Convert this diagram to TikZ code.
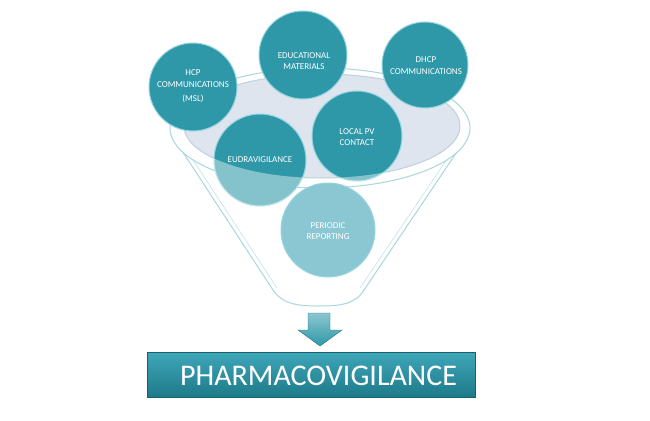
\documentclass[tikz,border=0pt]{standalone}
\usepackage{fontspec}
\setmainfont{Carlito}
\definecolor{tealc}{RGB}{46,152,168}
\definecolor{rimc}{RGB}{150,212,222}
\definecolor{funl}{RGB}{170,214,222}
\definecolor{innerc}{RGB}{222,229,238}
\definecolor{innerl}{RGB}{188,210,220}
\definecolor{lightteal}{RGB}{138,199,210}
\definecolor{bantop}{RGB}{62,167,184}
\definecolor{banbot}{RGB}{30,122,138}
\tikzset{
  bub/.style={circle, fill=tealc, draw=rimc, line width=1pt, inner sep=0pt},
  bubtext/.style={text=white, font=\fontsize{9}{11.5}\selectfont, align=center, inner sep=0pt},
  glass/.style={white, opacity=.42, even odd rule},
}
\begin{document}
\begin{tikzpicture}[x=1pt,y=-1pt]
\useasboundingbox[fill=white] (0,0) rectangle (650,420);
% funnel body
\coordinate (fl) at (171,134);
\coordinate (fr) at (469,134);
\coordinate (fbl) at (273,290);
\coordinate (fbr) at (364,290);
\coordinate (fb) at (319,306);
\draw[funl, line width=1pt, fill=white] (fl) -- (fbl)
  .. controls (283,305) and (300,306) .. (fb)
  .. controls (338,306) and (355,305) .. (fbr) -- (fr);
\draw[funl!70, line width=0.6pt] (176,134) -- (277,288);
\draw[funl!70, line width=0.6pt] (464,134) -- (360,288);
% rims
\draw[funl, line width=1pt, fill=white!96!innerc] (320,128) ellipse[x radius=150pt, y radius=60pt];
\draw[innerl, line width=1pt, fill=innerc] (322,126) ellipse[x radius=138pt, y radius=52pt];
% circles
\node[bub, minimum size=88pt] (hcp) at (193,87) {};
\node[bub, minimum size=88pt] (edu) at (303,55) {};
\node[bub, minimum size=86pt] (dhcp) at (425,65) {};
\node[bub, minimum size=92pt] (eudra) at (260,160) {};
\node[bub, minimum size=90pt] (local) at (357,136) {};
\node[bub, fill=lightteal, minimum size=94pt] (peri) at (328,230) {};
% glass overlay on the parts below the rim
\begin{scope}
  \clip (260,160) circle[radius=46.5pt];
  \fill[glass] (0,0) rectangle (650,420) (322,126) ellipse[x radius=138pt, y radius=52pt];
\end{scope}
\begin{scope}
  \clip (357,136) circle[radius=45.5pt];
  \fill[glass] (0,0) rectangle (650,420) (322,126) ellipse[x radius=138pt, y radius=52pt];
\end{scope}
% texts
\node[bubtext] (hcpt) at (193,86.5) {HCP\\COMMUNICATIONS\\[3pt](MSL)};
\node[bubtext] (edut) at (304,61) {EDUCATIONAL\\MATERIALS};
\node[bubtext] (dhcpt) at (426,65.5) {DHCP\\COMMUNICATIONS};
\node[bubtext] (eudrat) at (260,160) {EUDRAVIGILANCE};
\node[bubtext] (localt) at (357,137) {LOCAL PV\\CONTACT};
\node[bubtext] (perit) at (328,231) {PERIODIC\\REPORTING};
% banner
\node[minimum width=328pt, minimum height=45pt, inner sep=0pt,
  top color=bantop, bottom color=banbot, draw=banbot!80!black, line width=0.4pt] (pv) at (311,374.5) {};
\node[text=white, font=\fontsize{30}{30}\selectfont, inner sep=0pt] (pvt) at (318.5,376) {PHARMACOVIGILANCE};
% arrow
\path[top color=tealc!55!white, bottom color=tealc, draw=banbot, line width=0.4pt]
  (308,313) -- (330,313) -- (330,330) -- (342,330) -- (320,346) -- (298,330) -- (308,330) -- cycle;
\end{tikzpicture}
\end{document}
